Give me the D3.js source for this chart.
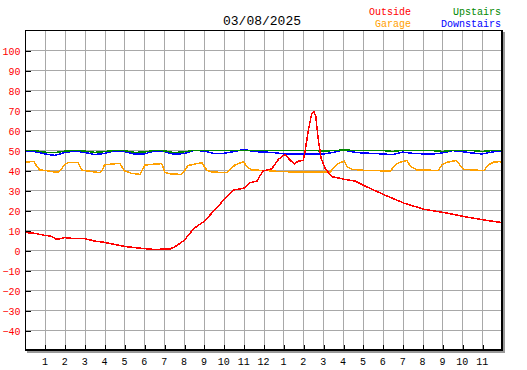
<!DOCTYPE html>
<html>
<head>
<meta charset="utf-8">
<script src="https://cdn.jsdelivr.net/npm/d3@7"></script>
<style>
  body { margin: 0; background: #fff; }
  text { font-family: "Liberation Mono", "DejaVu Sans Mono", monospace; }
</style>
</head>
<body>
<svg id="chart" width="527" height="370"></svg>
<script>
// Chart data (hours since midnight, temperature)
const title = "03/08/2025";
const hourTicks = d3.range(1, 24);
const tempTicks = d3.range(-40, 101, 10);

const outsideT = [0, 0.5, 1, 1.3, 1.6, 2, 2.5, 3, 3.5, 4, 4.5, 5, 5.5, 6, 6.5, 7.3, 7.55, 8, 8.5, 9, 9.5, 10, 10.5, 11, 11.33, 11.67, 11.97,
  12.41, 12.75, 13.08, 13.33, 13.55, 13.75, 14, 14.1, 14.26, 14.43, 14.53, 14.63, 14.76, 14.9, 15.1, 15.43, 16.1, 16.6, 17.1, 18.1, 19.1, 20.1, 21.1, 22.1, 23.1, 24];
const outsideV = [8.8, 8.3, 7.3, 7, 5.3, 6.2, 5.7, 5.7, 4.5, 3.8, 2.8, 1.8, 1.2, 0.7, 0.3, 0.5, 1.7, 4.7, 10.8, 14.2, 19.5, 25, 30, 30.8, 33.7, 34.5, 39.5,
  40.5, 45.3, 47.8, 45, 43, 44.5, 44.7, 50, 60, 68.3, 69.2, 66.7, 55, 45.8, 40.8, 36.7, 35.3, 34.5, 32, 27.5, 23.3, 20.3, 18.7, 16.7, 15, 13.7];

const garageT = [0, 0.45, 0.6, 0.75, 1, 1.5, 1.7, 1.8, 1.97, 2.17, 2.67, 2.85, 3, 3.77, 3.89, 4, 4.36, 4.78, 4.98, 5.37, 5.79, 6.04, 6.37, 6.88,
  7.04, 7.38, 7.88, 8.05, 8.2, 8.89, 9.14, 9.39, 10.15, 10.3, 10.57, 10.99, 11.15, 11.4, 12, 12.9, 13.75, 15.35, 15.52, 15.77, 16.07, 16.2,
  16.45, 17.1, 18.4, 18.55, 18.8, 19.22, 19.4, 19.73, 20.8, 20.97, 21.2, 21.7, 22.06, 23.1, 23.3, 23.6, 23.9, 24];
const garageV = [44, 44.2, 41.7, 40, 39.8, 39, 39, 40, 42.5, 43.7, 43.8, 40, 39.7, 38.7, 40, 42.5, 43, 43.3, 39.7, 38.3, 37.8, 42.5, 42.8, 43.2,
  38.7, 38, 37.8, 40, 42.2, 43.7, 40, 39, 38.7, 40, 42.5, 44.2, 41.7, 40, 39.8, 39.2, 39, 39, 40.8, 43.3, 44.5, 41.7,
  40.3, 39.8, 39.5, 41.7, 43.7, 44.7, 41.7, 40, 39.8, 42.5, 43.8, 44.8, 40.3, 39.7, 42.5, 44, 44.2, 43.7];

const halfHours = d3.range(0, 24.01, 0.5);
const upstairsV = [49.7, 49.7, 48.9, 48.7, 49.4, 49.8, 49.5, 48.8, 49.2, 49.8, 49.7, 48.8, 49, 49.8, 49.6, 48.7, 49.1, 49.8, 49.8, 49.7,
  49.7, 49.7, 49.8, 49.8, 49.8, 49.8, 49.8, 49.8, 49.8, 49.8, 49.4, 49.7, 50, 49.8, 49.8, 49.8, 49.7, 49.3, 49.8, 49.8,
  49.8, 49.7, 49.3, 49.8, 49.8, 49.7, 49.3, 49.7, 49.8];
const downstairsV = [49.5, 49.2, 48, 47.3, 48.7, 49.5, 48.8, 47.7, 48.3, 49.5, 49.2, 48, 48, 49.5, 49.2, 47.9, 48.2, 49.8, 49.5, 48.3,
  48.3, 49.2, 50.3, 49.2, 49, 48.7, 48.1, 48, 48, 48, 48, 48.8, 50, 49, 48.5, 48.3, 48, 47.7, 49, 48.3,
  48.1, 48, 48.5, 49.7, 49.2, 48.5, 48, 49, 49.7];

const plot = {left: 25, top: 30, right: 502, bottom: 350};
const svg = d3.select("#chart");

const x = d3.scaleLinear().domain([0, 24]).range([plot.left, plot.right]);
const y = d3.scaleLinear().domain([-50, 110]).range([plot.bottom, plot.top]);

// Grid
const grid = svg.append("g").attr("stroke", "#a8a8a8").attr("stroke-width", 1).attr("shape-rendering", "crispEdges");
grid.selectAll("line.v").data(hourTicks).enter().append("line")
    .attr("x1", d => Math.round(x(d)) + 0.5).attr("x2", d => Math.round(x(d)) + 0.5)
    .attr("y1", plot.top).attr("y2", plot.bottom);
grid.selectAll("line.h").data(tempTicks).enter().append("line")
    .attr("y1", d => Math.round(y(d)) + 0.5).attr("y2", d => Math.round(y(d)) + 0.5)
    .attr("x1", plot.left).attr("x2", plot.right);

// Axes with inside ticks
const yAxis = svg.append("g")
    .attr("transform", `translate(${plot.left + 0.5},0.5)`)
    .call(d3.axisLeft(y).tickValues(tempTicks).tickSizeInner(-5).tickSizeOuter(0).tickPadding(5));
yAxis.select(".domain").remove();
yAxis.selectAll("text").attr("fill", "#ff0000").style("font-size", "10px").attr("dy", "0.36em");

const xAxis = svg.append("g")
    .attr("transform", `translate(0.5,${plot.bottom - 0.5})`)
    .call(d3.axisBottom(x).tickValues(hourTicks).tickSizeInner(-5).tickSizeOuter(0).tickPadding(8)
        .tickFormat(d => (d % 12) || 12));
xAxis.select(".domain").remove();
xAxis.selectAll("text").attr("fill", "#000").style("font-size", "10px").attr("dx", "-0.1em");
svg.selectAll(".tick line").attr("stroke", "#000").attr("shape-rendering", "crispEdges");

// Series
const line = d3.line().x(d => x(d[0])).y(d => y(d[1]));
const series = [
    {t: garageT, v: garageV, color: "#ffa000"},
    {t: halfHours, v: downstairsV, color: "#0000ff"},
    {t: halfHours, v: upstairsV, color: "#008800"},
    {t: outsideT, v: outsideV, color: "#ff0000"}
];
series.forEach(s => {
    svg.append("path")
        .datum(d3.zip(s.t, s.v))
        .attr("d", line)
        .attr("fill", "none")
        .attr("stroke", s.color)
        .attr("stroke-width", 1.5)
        .attr("shape-rendering", "crispEdges");
});

// Frame with shadow
const frame = svg.append("g").attr("shape-rendering", "crispEdges");
frame.append("rect").attr("x", plot.right + 1).attr("y", plot.top + 2).attr("width", 2).attr("height", plot.bottom - plot.top + 1).attr("fill", "#999");
frame.append("rect").attr("x", plot.left + 2).attr("y", plot.bottom + 1).attr("width", plot.right - plot.left + 1).attr("height", 2).attr("fill", "#999");
frame.append("rect").attr("x", plot.left).attr("y", plot.top).attr("width", plot.right - plot.left).attr("height", 1).attr("fill", "#000");
frame.append("rect").attr("x", plot.left).attr("y", plot.top).attr("width", 1).attr("height", plot.bottom - plot.top).attr("fill", "#000");
frame.append("rect").attr("x", plot.right - 1).attr("y", plot.top).attr("width", 2).attr("height", plot.bottom - plot.top + 1).attr("fill", "#000");
frame.append("rect").attr("x", plot.left).attr("y", plot.bottom - 1).attr("width", plot.right - plot.left + 1).attr("height", 2).attr("fill", "#000");

// Title and legend
svg.append("text").attr("x", 262).attr("y", 25).attr("text-anchor", "middle")
    .style("font-size", "13px").attr("fill", "#000").text(title);
const legend = [
    {name: "Outside", color: "#ff0000", x: 411, y: 15},
    {name: "Garage", color: "#ffa000", x: 411, y: 27},
    {name: "Upstairs", color: "#008800", x: 501, y: 15},
    {name: "Downstairs", color: "#0000ff", x: 501, y: 27}
];
svg.selectAll("text.legend").data(legend).enter().append("text")
    .attr("class", "legend")
    .attr("x", d => d.x).attr("y", d => d.y)
    .attr("text-anchor", "end")
    .style("font-size", "10px")
    .attr("fill", d => d.color)
    .text(d => d.name);
</script>
</body>
</html>
